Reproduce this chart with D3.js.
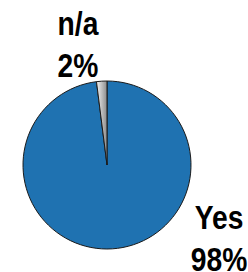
<!DOCTYPE html>
<html lang="en">
<head>
  <meta charset="UTF-8">
  <title>Yes vs n/a</title>
  <style>
    html, body { margin: 0; padding: 0; background: #fff; }
    #chart { width: 248px; height: 272px; }
    .lbl { font-family: "Liberation Sans", Arial, sans-serif; font-weight: bold; font-size: 34px; fill: #000; }
  </style>
  <script src="https://d3js.org/d3.v7.min.js"></script>
</head>
<body>
  <div id="chart"></div>
  <script>
    const categories = ["Yes", "n/a"];
    const values = [98, 2];
    const pctLabels = ["98%", "2%"];

    const width = 248, height = 272;
    const cx = 107, cy = 165, radius = 84;

    const svg = d3.select("#chart").append("svg")
      .attr("width", width)
      .attr("height", height);

    const defs = svg.append("defs");
    const grad = defs.append("linearGradient")
      .attr("id", "grayGrad")
      .attr("x1", "0%").attr("x2", "100%")
      .attr("y1", "0%").attr("y2", "0%");
    grad.append("stop").attr("offset", "0%").attr("stop-color", "#f2f2f2");
    grad.append("stop").attr("offset", "100%").attr("stop-color", "#8c8c8c");

    const fills = d3.scaleOrdinal()
      .domain(categories)
      .range(["#1f72b1", "url(#grayGrad)"]);

    const pie = d3.pie().sort(null).value(d => d.v);
    const arc = d3.arc().innerRadius(0).outerRadius(radius);

    const data = categories.map((c, i) => ({ c: c, v: values[i], p: pctLabels[i] }));

    const g = svg.append("g").attr("transform", `translate(${cx},${cy})`);
    g.selectAll("path")
      .data(pie(data))
      .enter()
      .append("path")
      .attr("d", arc)
      .attr("fill", d => fills(d.data.c))
      .attr("stroke", "#1a1a1a")
      .attr("stroke-width", 1);

    // label anchors (name baseline / percent baseline)
    const labelPos = {
      "n/a": { x: 78, y: 35 },
      "Yes": { x: 219, y: 229 }
    };

    data.forEach(d => {
      const p = labelPos[d.c];
      const t = svg.append("g")
        .attr("transform", `translate(${p.x},${p.y}) scale(0.83,1)`);
      t.append("text").attr("class", "lbl")
        .attr("text-anchor", "middle")
        .text(d.c);
      t.append("text").attr("class", "lbl")
        .attr("text-anchor", "middle")
        .attr("y", 42)
        .text(d.p);
    });
  </script>
</body>
</html>
